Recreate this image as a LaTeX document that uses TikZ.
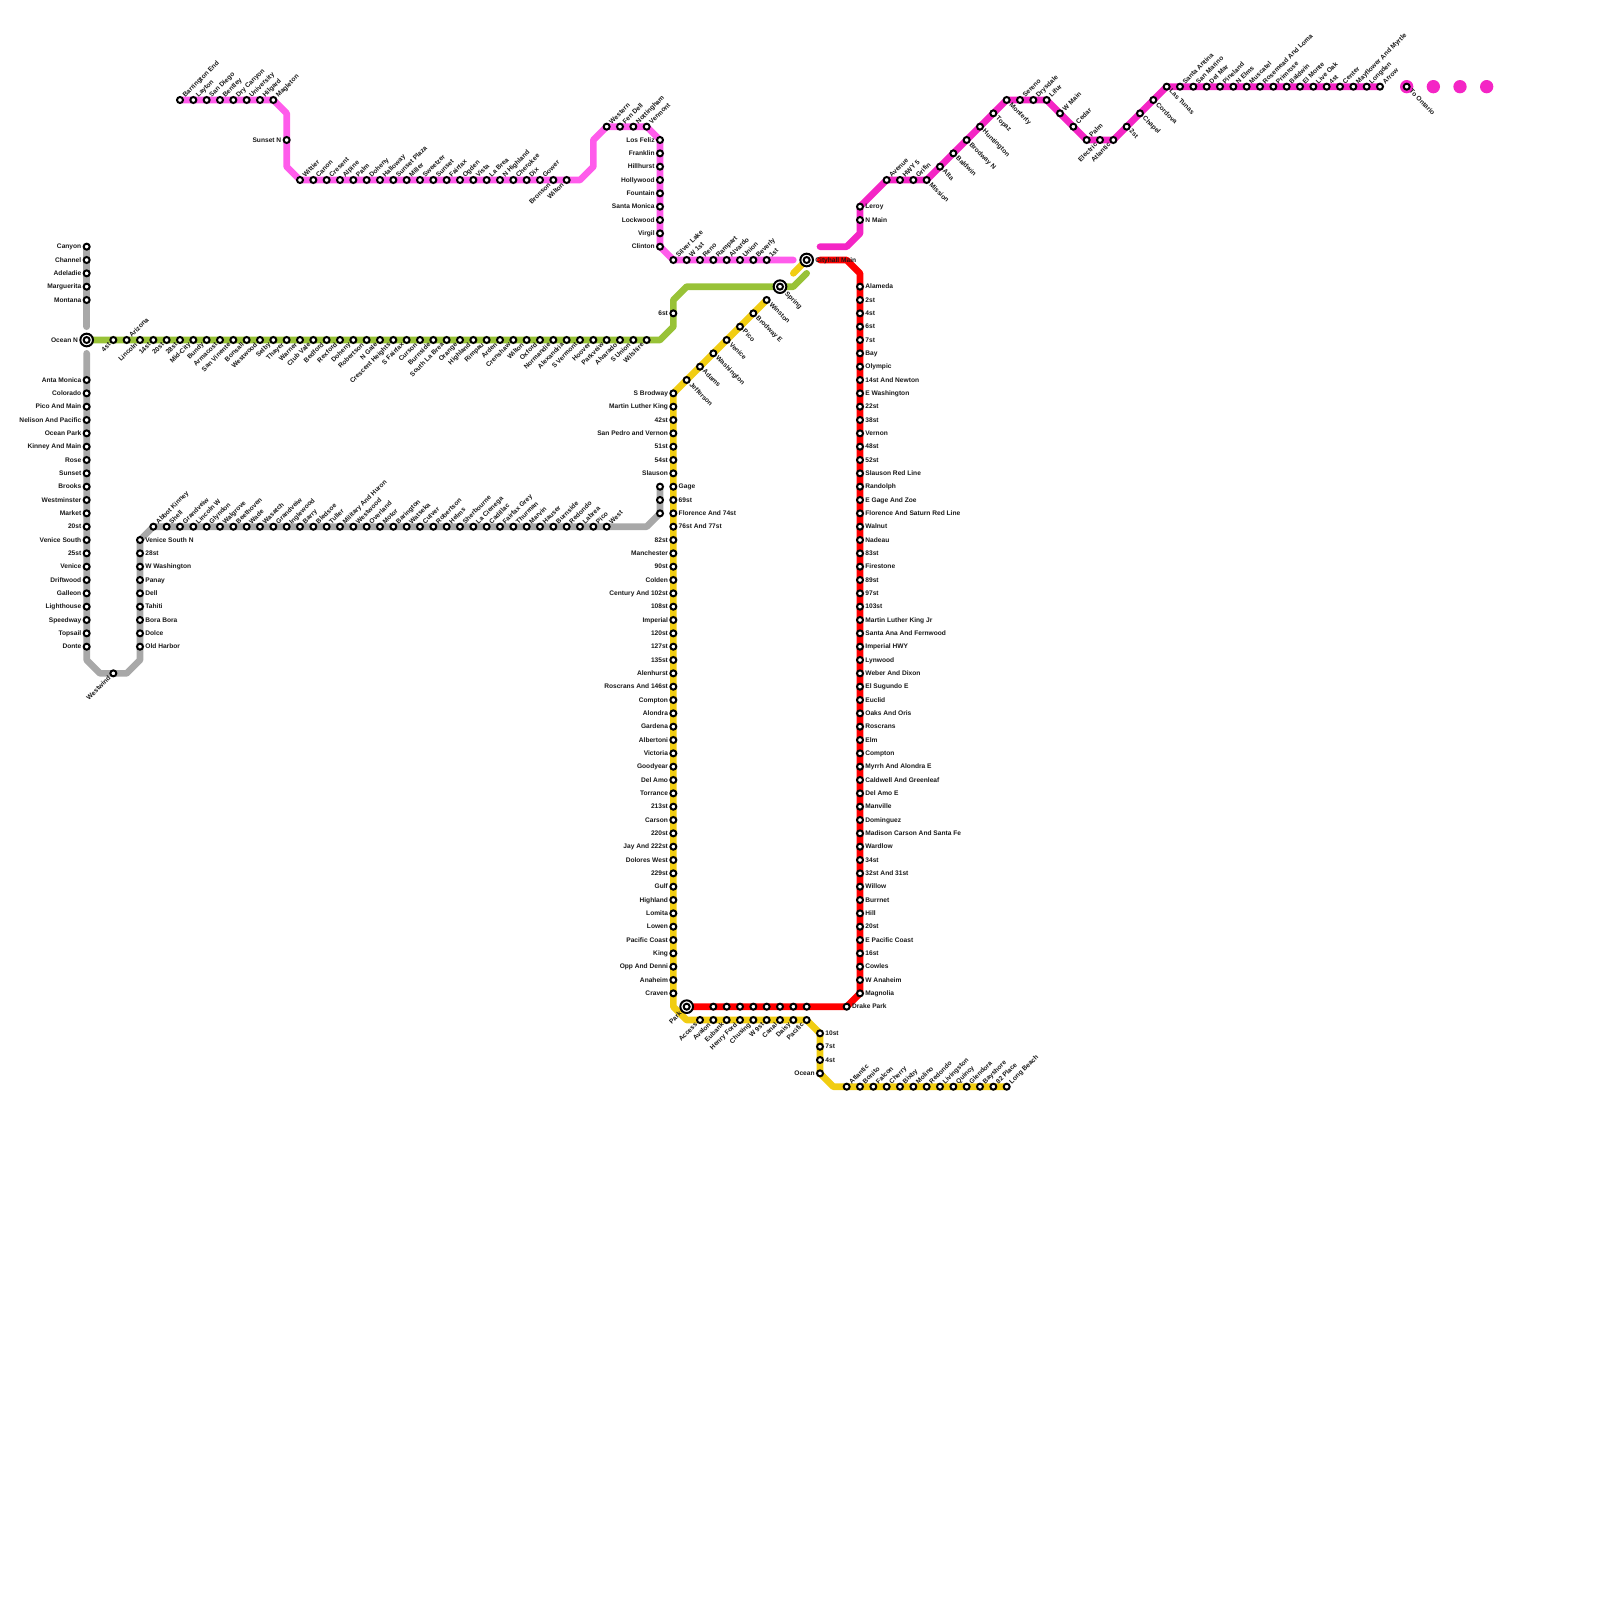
\documentclass[tikz,border=0pt]{standalone}
\usepackage{fontspec}
\setmainfont{Liberation Sans}
\usetikzlibrary{backgrounds}
\definecolor{graylin}{HTML}{A8A8A8}
\definecolor{greenlin}{HTML}{98C237}
\definecolor{pinklin}{HTML}{FF5CEB}
\definecolor{magentalin}{HTML}{F425C5}
\definecolor{yellowlin}{HTML}{F1CD12}
\definecolor{redlin}{HTML}{FF0000}
\tikzset{
    lab/.style={font=\fontsize{5.65}{6}\selectfont\bfseries,text=black!90,inner sep=1pt,text height=4.6pt,text depth=1pt},
    ur/.style={label={[lab,rotate=45,anchor=west]45:#1}},
    dr/.style={label={[lab,rotate=-45,anchor=west]-45:#1}},
    dl/.style={label={[lab,rotate=45,anchor=east]225:#1}},
    lf/.style={label={[lab,anchor=east]180:#1}},
    rt/.style={label={[lab,anchor=west]0:#1}},
    stn/.style={circle,draw=black,fill=white,line width=1.7pt,minimum size=.18cm,inner sep=0},
    hub/.style={circle,draw=black,fill=white,line width=1.7pt,minimum size=.38cm,inner sep=0},
    dot/.style={circle,fill=magentalin,minimum size=.4cm,inner sep=0},
    lin/.style={line width=.2cm,line cap=round,line join=round}
}
\begin{document}
\begin{tikzpicture}[x=.4cm,y=-.4cm]
\useasboundingbox (-.5,-.5) rectangle (119.5,119.5);

\foreach \x/\r in {6/24,6/26,6/49,7/50,9/50,10/49,48/39,49/25,50/24,50/22,51/21,59/21,60/20,
    21/8,21/12,43/13,44/12,44/10,59/19,59/20,50/75,51/76,62/81,61/19,63/19,64/20,61/18,63/18,64/17}
{
    \coordinate (b\x-\r) at (\x,\r);
}

\foreach \x in {105,107,109,111}
{
    \node[dot] (d\x) at (\x,6) {};
}
\node[hub,lf=Ocean N] (h6-25) at (6,25) {};
\node[hub,dl=Park] (h51-75) at (51,75) {};
\node[hub,dr=Spring] (h58-21) at (58,21) {};
\node[hub,rt=Cityhall Main] (h60-19) at (60,19) {};
\foreach \x/\r in {6/25,51/75,58/21,60/19}
{
    \node[stn] (s\x-\r) at (\x,\r) {};
}
\node[stn,dr=To Ontario] (s105-6) at (105,6) {};

\foreach \x/\y in {13/Barrington End,14/Layton,15/San Diego,16/Bentley,17/Dry Canyon,18/University,19/Hilgard,20/Magleton}
{
    \node[stn,ur=\y] (s\x-7) at (\x,7) {};
}
\node[stn,lf=Sunset N] (s21-10) at (21,10) {};
\foreach \x/\y in {22/Wittier,23/Canon,24/Cresent,25/Alpine,26/Palm,27/Doheny,28/Halloway,29/Sunset Plaza,30/Miller,31/Sweetzer,32/Sunset,33/Fairfax,34/Ogden,35/Vista,36/La Brea,37/N Highland,38/Cherokee,39/Dix,40/Gower}
{
    \node[stn,ur=\y] (s\x-13) at (\x,13) {};
}
\foreach \x/\y in {41/Bronson,42/Wilton}
{
    \node[stn,dl=\y] (s\x-13) at (\x,13) {};
}
\foreach \x/\y in {45/Western,46/Fen Dell,47/Nottingham,48/Vermont}
{
    \node[stn,ur=\y] (s\x-9) at (\x,9) {};
}
\foreach \r/\y in {10/Los Feliz,11/Franklin,12/Hillhurst,13/Hollywood,14/Fountain,15/Santa Monica,16/Lockwood,17/Virgil,18/Clinton}
{
    \node[stn,lf=\y] (s49-\r) at (49,\r) {};
}
\foreach \x/\y in {50/Silver Lake,51/W 1st,52/Reno,53/Rampart,54/Alvardo,55/Union,56/Beverly,57/1st}
{
    \node[stn,ur=\y] (s\x-19) at (\x,19) {};
}

\foreach \r/\y in {18/Canyon,19/Channel,20/Adeladie,21/Marguerita,22/Montana,28/Anta Monica,29/Colorado,30/Pico And Main,31/Nelison And Pacific,32/Ocean Park,33/Kinney And Main,34/Rose,35/Sunset,36/Brooks,37/Westminster,38/Market,39/20st,40/Venice South,41/25st,42/Venice,43/Driftwood,44/Galleon,45/Lighthouse,46/Speedway,47/Topsail,48/Donte}
{
    \node[stn,lf=\y] (s6-\r) at (6,\r) {};
}
\node[stn,dl=Westwind] (s8-50) at (8,50) {};
\foreach \r/\y in {40/Venice South N,41/28st,42/W Washington,43/Panay,44/Dell,45/Tahiti,46/Bora Bora,47/Dolce,48/Old Harbor}
{
    \node[stn,rt=\y] (s10-\r) at (10,\r) {};
}
\foreach \x/\y in {11/Abbot Kinney,12/Shell,13/Grandveiw,14/Lincoln W,15/Glyndon,16/Walgrove,17/Beethoven,18/Wade,19/Wasatch,20/Grandveiw,21/Inglewood,22/Barry,23/Bledsoe,24/Tuller,25/Military And Huron,26/Westwood,27/Overland,28/Motor,29/Barington,30/Watseka,31/Culver,32/Robertson,33/Helms,34/Sherbourne,35/La Cienega,36/Cadillac,37/Fairfax Grey,38/Thurman,39/Marvin,40/Hauser,41/Burnside,42/Redondo,43/Labrea,44/Pico,45/West}
{
    \node[stn,ur=\y] (s\x-39) at (\x,39) {};
}
\foreach \r in {36,37,38}
{
    \node[stn] (s49-\r) at (49,\r) {};
}

\foreach \x/\y in {8/4st,10/Lincoln,11/14st,12/20st,13/28st,14/Mid-City,15/Bundy,16/Armacost,17/San Vinente,18/Bonsall,19/Westwood,20/Selby,21/Thayer,22/Warner,23/Club Vale,24/Bedford,25/Rexford,26/Doheny,27/Robertson,28/N Gale,29/Crescent Heights,30/S Fairfax,31/Curson,32/Burnside,33/South La Brea,34/Orange,35/Highland,36/Rimpau,37/Arden,38/Crenshaw,39/Wilton,40/Oxford,41/Normandie,42/Alexandria,43/S Vermont,44/Hoover,45/Parkveiw,46/Alvarado,47/S Union,48/Wilshire}
{
    \node[stn,dl=\y] (s\x-25) at (\x,25) {};
}
\node[stn,ur=Arizona] (s9-25) at (9,25) {};
\node[stn,lf=6st] (s50-23) at (50,23) {};

\foreach \x/\r/\y in {57/22/Winston,56/23/Brodway E,55/24/Pico,54/25/Venice,53/26/Washington,52/27/Adams,51/28/Jefferson}
{
    \node[stn,dr=\y] (s\x-\r) at (\x,\r) {};
}
\foreach \r/\y in {29/S Brodway,30/Martin Luther King,31/42st,32/San Pedro and Vernon,33/51st,34/54st,35/Slauson,40/82st,41/Manchester,42/90st,43/Colden,44/Century And 102st,45/108st,46/Imperial,47/120st,48/127st,49/135st,50/Alenhurst,51/Roscrans And 146st,52/Compton,53/Alondra,54/Gardena,55/Albertoni,56/Victoria,57/Goodyear,58/Del Amo,59/Torrance,60/213st,61/Carson,62/220st,63/Jay And 222st,64/Dolores West,65/229st,66/Gulf,67/Highland,68/Lomita,69/Lowen,70/Pacific Coast,71/King,72/Opp And Denni,73/Anaheim,74/Craven}
{
    \node[stn,lf=\y] (s50-\r) at (50,\r) {};
}
\foreach \r/\y in {36/Gage,37/69st,38/Florence And 74st,39/76st And 77st}
{
    \node[stn,rt=\y] (s50-\r) at (50,\r) {};
}
\foreach \x/\y in {52/Access,53/Avalon,54/Eubank,55/Henry Ford,56/Chusing,57/W 9st,58/Canal,59/Daisy,60/Pacific}
{
    \node[stn,dl=\y] (s\x-76) at (\x,76) {};
}
\foreach \r/\y in {77/10st,78/7st,79/4st}
{
    \node[stn,rt=\y] (s61-\r) at (61,\r) {};
}
\node[stn,lf=Ocean] (s61-80) at (61,80) {};
\foreach \x/\y in {63/Atlantic,64/Bonito,65/Falcon,66/Cherry,67/Bixby,68/Molino,69/Redondo,70/Livingston,71/Quincy,72/Glendora,73/Bayshore,74/82 Place,75/Long Beach}
{
    \node[stn,ur=\y] (s\x-81) at (\x,81) {};
}

\foreach \r/\y in {21/Alameda,22/2st,23/4st,24/6st,25/7st,26/Bay,27/Olympic,28/14st And Newton,29/E Washington,30/22st,31/38st,32/Vernon,33/48st,34/52st,35/Slauson Red Line,36/Randolph,37/E Gage And Zoe,38/Florence And Saturn Red Line,39/Walnut,40/Nadeau,41/83st,42/Firestone,43/89st,44/97st,45/103st,46/Martin Luther King Jr,47/Santa Ana And Fernwood,48/Imperial HWY,49/Lynwood,50/Weber And Dixon,51/El Sugundo E,52/Euclid,53/Oaks And Oris,54/Roscrans,55/Elm,56/Compton,57/Myrrh And Alondra E,58/Caldwell And Greenleaf,59/Del Amo E,60/Manville,61/Dominguez,62/Madison Carson And Santa Fe,63/Wardlow,64/34st,65/32st And 31st,66/Willow,67/Burrnet,68/Hill,69/20st,70/E Pacific Coast,71/16st,72/Cowles,73/W Anaheim,74/Magnolia}
{
    \node[stn,rt=\y] (s64-\r) at (64,\r) {};
}
\node[stn,rt=Drake Park] (s63-75) at (63,75) {};
\foreach \x in {53,...,60}
{
    \node[stn] (s\x-75) at (\x,75) {};
}

\foreach \r/\y in {15/Leroy,16/N Main}
{
    \node[stn,rt=\y] (s64-\r) at (64,\r) {};
}
\foreach \x/\y in {66/Avenue,67/HWY 5,68/Grifin}
{
    \node[stn,ur=\y] (s\x-13) at (\x,13) {};
}
\foreach \x/\r/\y in {69/13/Mission,70/12/Alta,71/11/Baldwin,72/10/Brodway N,73/9/Huntington,74/8/Topaz,75/7/Monterty,84/9/2st,85/8/Chapel,86/7/Cordova,87/6/Las Tunas}
{
    \node[stn,dr=\y] (s\x-\r) at (\x,\r) {};
}
\foreach \x/\r/\y in {76/7/Sereno,77/7/Drysdale,78/7/Lifur,79/8/W Main,80/9/Cedar,81/10/Palm}
{
    \node[stn,ur=\y] (s\x-\r) at (\x,\r) {};
}
\foreach \x/\y in {82/Electric,83/Atlantic}
{
    \node[stn,dl=\y] (s\x-10) at (\x,10) {};
}
\foreach \x/\y in {88/Santa Antina,89/San Marino,90/Del Mar,91/Pineland,92/N Elms,93/Muscatel,94/Rosemead And Loma,95/Primrose,96/Baldwin,97/El Monte,98/Live Oak,99/4st,100/Center,101/Mayflower And Myrtle,102/Longden,103/Arrow}
{
    \node[stn,ur=\y] (s\x-6) at (\x,6) {};
}

\begin{scope}[on background layer]
\draw[lin,graylin] (s6-18.center)--(b6-24);
\draw[lin,graylin] (b6-26)--(s6-48.center)--(b6-49)--(b7-50)--(s8-50.center)--(b9-50)--(b10-49)--(s10-40.center)--(s11-39.center)--(s45-39.center)--(b48-39)--(s49-38.center)--(s49-36.center);
\draw[lin,greenlin] (s6-25.center)--(s48-25.center)--(b49-25)--(b50-24)--(s50-23.center)--(b50-22)--(b51-21)--(s58-21.center)--(b59-21)--(b60-20);
\draw[lin,pinklin] (s13-7.center)--(s20-7.center)--(b21-8)--(s21-10.center)--(b21-12)--(s22-13.center)--(s42-13.center)--(b43-13)--(b44-12)--(b44-10)--(s45-9.center)--(s48-9.center)--(s49-10.center)--(s49-18.center)--(s50-19.center)--(s57-19.center)--(b59-19);
\draw[lin,yellowlin] (s60-19.center)--(b59-20);
\draw[lin,yellowlin] (s57-22.center)--(s50-29.center)--(s50-74.center)--(b50-75)--(b51-76)--(s52-76.center)--(s60-76.center)--(s61-77.center)--(s61-80.center)--(b62-81)--(s63-81.center)--(s75-81.center);
\draw[lin,redlin] (b61-19)--(b63-19)--(b64-20)--(s64-74.center)--(s63-75.center)--(s51-75.center);
\draw[lin,magentalin] (b61-18)--(b63-18)--(b64-17)--(s64-15.center)--(s66-13.center)--(s69-13.center)--(s75-7.center)--(s78-7.center)--(s81-10.center)--(s83-10.center)--(s87-6.center)--(s103-6.center);
\end{scope}

\end{tikzpicture}
\end{document}
